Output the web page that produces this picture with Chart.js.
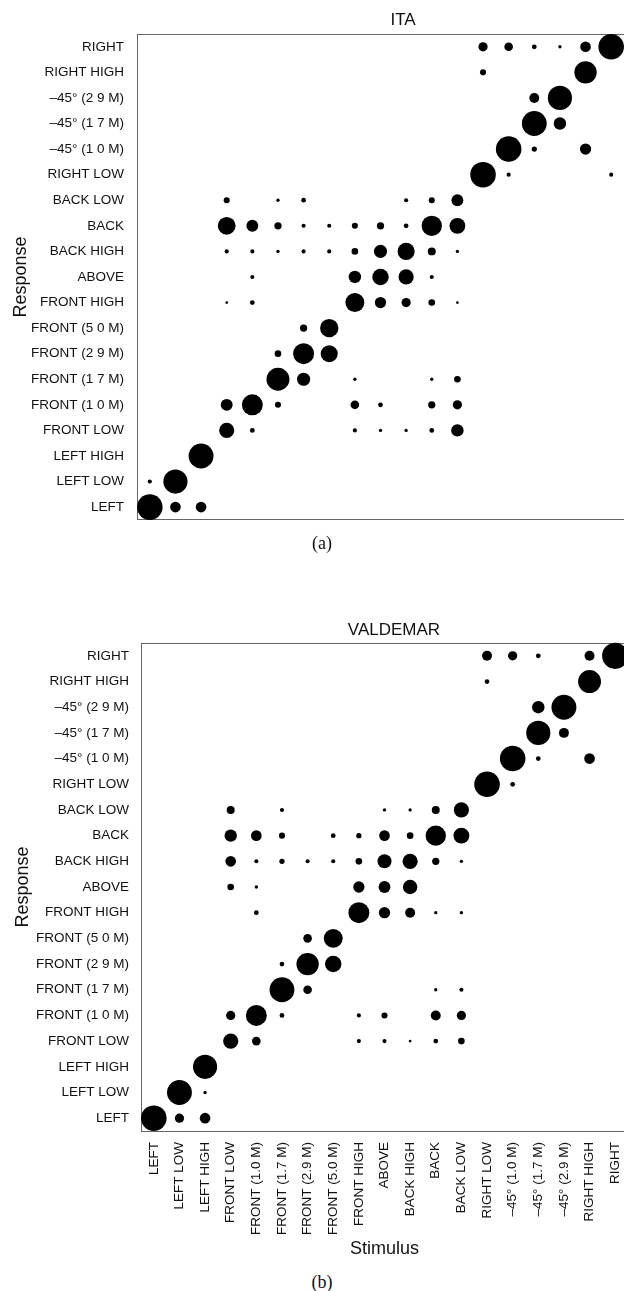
<!DOCTYPE html>
<html>
<head>
<meta charset="utf-8">
<script src="https://cdn.jsdelivr.net/npm/chart.js@4.4.1/dist/chart.umd.min.js"></script>
<style>
  body { margin: 0; background: #fff; overflow: hidden; width: 624px; height: 1291px; position: relative; }
  canvas { position: absolute; left: 0; }
  #chart-ita { top: 1px; }
  #chart-valdemar { top: 610px; }
  .panel-title, .caption { position: absolute; transform: translateX(-50%); color: #111; white-space: nowrap; }
  .panel-title { font-family: 'Liberation Sans', Arial, sans-serif; font-size: 17px; }
  .caption { font-family: 'Liberation Serif', 'Times New Roman', serif; font-size: 18px; }
</style>
</head>
<body>
<canvas id="chart-ita" width="700" height="540"></canvas>
<canvas id="chart-valdemar" width="700" height="655"></canvas>
<div class="panel-title" style="left:403px; top:10px">ITA</div>
<div class="panel-title" style="left:394px; top:620px">VALDEMAR</div>
<div class="caption" style="left:322px; top:533px">(a)</div>
<div class="caption" style="left:322px; top:1272px">(b)</div>
<script>
// stimulus / response positions, same order on both axes
const stimulusLabels = ['LEFT', 'LEFT LOW', 'LEFT HIGH', 'FRONT LOW', 'FRONT (1.0 M)', 'FRONT (1.7 M)',
  'FRONT (2.9 M)', 'FRONT (5.0 M)', 'FRONT HIGH', 'ABOVE', 'BACK HIGH', 'BACK', 'BACK LOW',
  'RIGHT LOW', '–45° (1.0 M)', '–45° (1.7 M)', '–45° (2.9 M)', 'RIGHT HIGH', 'RIGHT'];
const responseLabels = ['LEFT', 'LEFT LOW', 'LEFT HIGH', 'FRONT LOW', 'FRONT (1 0 M)', 'FRONT (1 7 M)',
  'FRONT (2 9 M)', 'FRONT (5 0 M)', 'FRONT HIGH', 'ABOVE', 'BACK HIGH', 'BACK', 'BACK LOW',
  'RIGHT LOW', '–45° (1 0 M)', '–45° (1 7 M)', '–45° (2 9 M)', 'RIGHT HIGH', 'RIGHT'];

// % of responses; one row per response (LEFT first), one column per stimulus
const itaResponses = [
  [95, 15, 15, 0, 0, 0, 0, 0, 0, 0, 0, 0, 0, 0, 0, 0, 0, 0, 0],
  [1.7, 85, 0, 0, 0, 0, 0, 0, 0, 0, 0, 0, 0, 0, 0, 0, 0, 0, 0],
  [0, 0, 90, 0, 0, 0, 0, 0, 0, 0, 0, 0, 0, 0, 0, 0, 0, 0, 0],
  [0, 0, 0, 32, 2.4, 0, 0, 0, 1.7, 1, 1, 2.4, 21, 0, 0, 0, 0, 0, 0],
  [0, 0, 0, 19, 63, 4.3, 0, 0, 9.5, 2.4, 0, 6.5, 11, 0, 0, 0, 0, 0, 0],
  [0, 0, 0, 0, 0, 76, 23.5, 0, 1, 0, 0, 1, 5.3, 0, 0, 0, 0, 0, 0],
  [0, 0, 0, 0, 0, 5.3, 63, 41, 0, 0, 0, 0, 0, 0, 0, 0, 0, 0, 0],
  [0, 0, 0, 0, 0, 0, 6.5, 48, 0, 0, 0, 0, 0, 0, 0, 0, 0, 0, 0],
  [0, 0, 0, 0.6, 2.4, 0, 0, 0, 51, 17, 11, 5.3, 0.6, 0, 0, 0, 0, 0, 0],
  [0, 0, 0, 0, 1.7, 0, 0, 0, 21, 38, 32, 1.7, 0, 0, 0, 0, 0, 0, 0],
  [0, 0, 0, 1.7, 1.7, 1, 1.7, 1.7, 5.3, 23.5, 41, 8, 1, 0, 0, 0, 0, 0, 0],
  [0, 0, 0, 45, 19, 6.5, 1.7, 1.7, 4.3, 6.5, 2.4, 59, 35, 0, 0, 0, 0, 0, 0],
  [0, 0, 0, 4.3, 0, 1, 2.4, 0, 0, 0, 1.7, 4.3, 19, 0, 0, 0, 0, 0, 0],
  [0, 0, 0, 0, 0, 0, 0, 0, 0, 0, 0, 0, 0, 95, 1.7, 0, 0, 0, 1.7],
  [0, 0, 0, 0, 0, 0, 0, 0, 0, 0, 0, 0, 0, 0, 95, 3.1, 0, 17, 0],
  [0, 0, 0, 0, 0, 0, 0, 0, 0, 0, 0, 0, 0, 0, 0, 90, 21, 0, 0],
  [0, 0, 0, 0, 0, 0, 0, 0, 0, 0, 0, 0, 0, 0, 0, 13, 85, 0, 0],
  [0, 0, 0, 0, 0, 0, 0, 0, 0, 0, 0, 0, 0, 4.3, 0, 0, 0, 72, 0],
  [0, 0, 0, 0, 0, 0, 0, 0, 0, 0, 0, 0, 0, 11, 9.5, 2.4, 1, 15, 95]
];

const valdemarResponses = [
  [95, 11, 15, 0, 0, 0, 0, 0, 0, 0, 0, 0, 0, 0, 0, 0, 0, 0, 0],
  [0, 90, 1, 0, 0, 0, 0, 0, 0, 0, 0, 0, 0, 0, 0, 0, 0, 0, 0],
  [0, 0, 85, 0, 0, 0, 0, 0, 0, 0, 0, 0, 0, 0, 0, 0, 0, 0, 0],
  [0, 0, 0, 32, 9.5, 0, 0, 0, 1.7, 1.7, 0.6, 2.4, 5.3, 0, 0, 0, 0, 0, 0],
  [0, 0, 0, 11, 63, 2.4, 0, 0, 1.7, 4.3, 0, 13, 11, 0, 0, 0, 0, 0, 0],
  [0, 0, 0, 0, 0, 90, 9.5, 0, 0, 0, 0, 1, 1.7, 0, 0, 0, 0, 0, 0],
  [0, 0, 0, 0, 0, 2.4, 72, 38, 0, 0, 0, 0, 0, 0, 0, 0, 0, 0, 0],
  [0, 0, 0, 0, 0, 0, 9.5, 51, 0, 0, 0, 0, 0, 0, 0, 0, 0, 0, 0],
  [0, 0, 0, 0, 2.4, 0, 0, 0, 63, 17, 13, 1, 1, 0, 0, 0, 0, 0, 0],
  [0, 0, 0, 5.3, 1, 0, 0, 0, 17, 19, 29, 0, 0, 0, 0, 0, 0, 0, 0],
  [0, 0, 0, 15, 1.7, 3.1, 1.7, 1.7, 5.3, 27, 32, 6.5, 1, 0, 0, 0, 0, 0, 0],
  [0, 0, 0, 21, 15, 4.3, 0, 2.4, 3.1, 15, 5.3, 59, 35, 0, 0, 0, 0, 0, 0],
  [0, 0, 0, 8, 0, 1.7, 0, 0, 0, 1, 1, 8, 32, 0, 0, 0, 0, 0, 0],
  [0, 0, 0, 0, 0, 0, 0, 0, 0, 0, 0, 0, 0, 95, 2.4, 0, 0, 0, 0],
  [0, 0, 0, 0, 0, 0, 0, 0, 0, 0, 0, 0, 0, 0, 95, 2.4, 0, 15, 0],
  [0, 0, 0, 0, 0, 0, 0, 0, 0, 0, 0, 0, 0, 0, 0, 85, 13, 0, 0],
  [0, 0, 0, 0, 0, 0, 0, 0, 0, 0, 0, 0, 0, 0, 0, 21, 90, 0, 0],
  [0, 0, 0, 0, 0, 0, 0, 0, 0, 0, 0, 0, 0, 2.4, 0, 0, 0, 76, 0],
  [0, 0, 0, 0, 0, 0, 0, 0, 0, 0, 0, 0, 0, 13, 11, 2.4, 0, 13, 100]
];

Chart.defaults.font.family = "'Liberation Sans', Arial, sans-serif";
Chart.defaults.color = '#111';

// bubble area follows the percentage (small offset keeps the tiny dots visible)
const radiusOf = (pct) => 0.4 + 1.27 * Math.sqrt(pct);

function toPoints(rows) {
  const pts = [];
  rows.forEach((row, resp) => {
    row.forEach((pct, stim) => {
      if (pct > 0) pts.push({ x: stim, y: resp, r: radiusOf(pct) });
    });
  });
  return pts;
}

// one tick per position, no in-between values
const oneTickEach = (scale) => {
  scale.ticks = stimulusLabels.map((_, i) => ({ value: i }));
};
const frame = { display: true, color: '#666', width: 1 };

function makeChart(id, rows, o) {
  return new Chart(document.getElementById(id), {
    type: 'bubble',
    data: {
      datasets: [{ data: toPoints(rows), backgroundColor: '#000', borderWidth: 0, clip: false }]
    },
    options: {
      responsive: false,
      animation: false,
      devicePixelRatio: 1,
      events: [],
      // wide right padding: the plot runs off the page edge, chart area ends at 700 - padRight
      layout: { padding: { left: 0, right: o.padRight, top: 33, bottom: 0 } },
      plugins: {
        legend: { display: false },
        tooltip: { enabled: false }
      },
      scales: {
        x: {
          type: 'linear', min: -0.5, max: 18.5,
          afterBuildTicks: oneTickEach,
          afterFit: (s) => { s.height = o.xHeight; },
          grid: { display: false, drawTicks: false },
          border: frame,
          ticks: {
            display: o.showStimulus, autoSkip: false,
            minRotation: 90, maxRotation: 90, padding: 11,
            font: { size: 13.5 },
            callback: (v) => stimulusLabels[v]
          },
          title: {
            display: o.showStimulus, text: 'Stimulus',
            font: { size: 18 }, padding: { top: 0, bottom: 5 }
          }
        },
        xTop: {
          type: 'linear', position: 'top', min: -0.5, max: 18.5,
          afterFit: (s) => { s.height = 0; },
          grid: { display: false, drawTicks: false },
          border: frame,
          ticks: { display: false }
        },
        y: {
          type: 'linear', min: -0.5, max: 18.5,
          afterBuildTicks: oneTickEach,
          afterFit: (s) => { s.width = o.yWidth; },
          grid: { display: false, drawTicks: false },
          border: frame,
          ticks: {
            autoSkip: false, padding: o.yPad,
            font: { size: 13.5 },
            callback: (v) => responseLabels[v]
          },
          title: {
            display: true, text: 'Response',
            font: { size: 18 }, padding: { top: o.titlePad, bottom: 0 }
          }
        }
      }
    }
  });
}

makeChart('chart-ita', itaResponses, {
  padRight: 76, xHeight: 19, yWidth: 137, yPad: 13, titlePad: 10, showStimulus: false
});
makeChart('chart-valdemar', valdemarResponses, {
  padRight: 72, xHeight: 134, yWidth: 141, yPad: 12, titlePad: 12, showStimulus: true
});
</script>
</body>
</html>
